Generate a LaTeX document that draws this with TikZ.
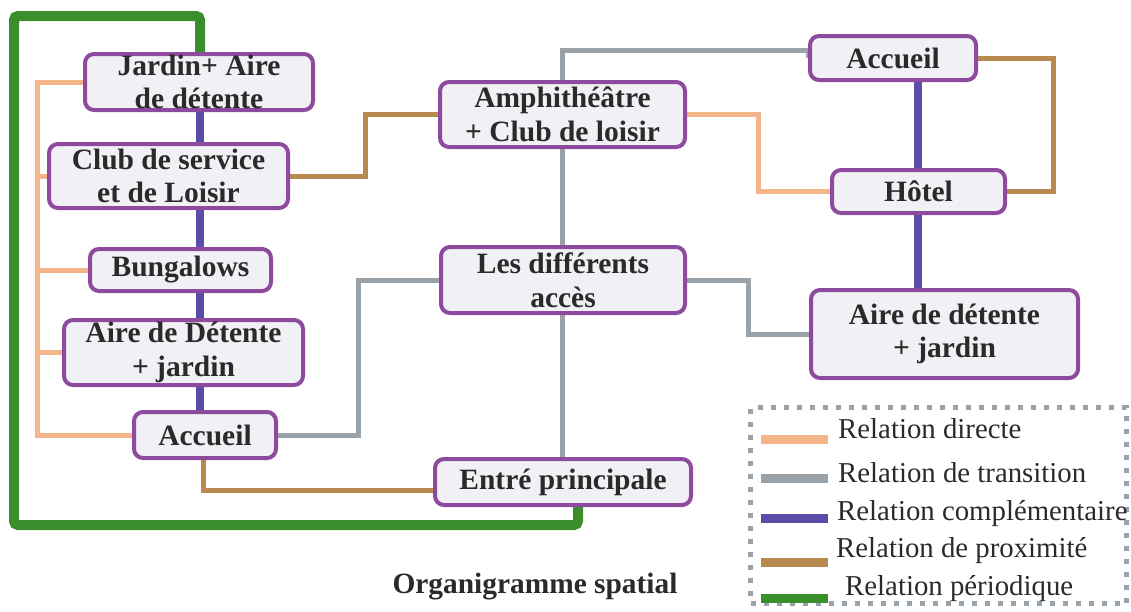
\documentclass[tikz,border=0pt]{standalone}
\usepackage{fontspec}
\setmainfont{Liberation Serif}
\usetikzlibrary{backgrounds}

\definecolor{boxline}{HTML}{8E4A9E}
\definecolor{boxfill}{HTML}{F1F1F5}
\definecolor{cdirect}{HTML}{F5B58A}
\definecolor{ctrans}{HTML}{9AA2A9}
\definecolor{ccomp}{HTML}{5A4DA8}
\definecolor{cprox}{HTML}{B98A4F}
\definecolor{cperi}{HTML}{3A8E2C}
\definecolor{txt}{HTML}{2A2A2A}

% a rounded box given by its outer corners (x1,y1) and (x2,y2)
\newcommand\placebox[6]{%
  \node[box, minimum width={#4-#2-4}, minimum height={#5-#3-4}]
    (#1) at ({(#2+#4)/2},{(#3+#5)/2}) {#6};}

\begin{document}
\begin{tikzpicture}[x=1pt,y=-1pt,
  box/.style={draw=boxline, fill=boxfill, line width=4pt, rounded corners=9pt,
    inner sep=0pt, align=center, text=txt,
    font=\fontsize{29.5}{33.5}\selectfont\bfseries},
  direct/.style={draw=cdirect, line width=5pt},
  trans/.style={draw=ctrans, line width=5pt},
  comp/.style={draw=ccomp, line width=8pt},
  prox/.style={draw=cprox, line width=5pt},
  peri/.style={draw=cperi, line width=10pt, rounded corners=4pt},
  legendframe/.style={draw=ctrans, line width=5pt, dash pattern=on 5pt off 8pt,
    inner sep=0pt},
  legendtext/.style={anchor=base west, inner sep=0pt, text=txt,
    font=\fontsize{28.8}{30}\selectfont},
  swatch/.style={line width=9pt}
]
\useasboundingbox (0,0) rectangle (1131,611);

% spaces of the resort
\placebox{jardin}{83}{52}{315}{112}{Jardin+ Aire\\de détente}
\placebox{club}{47}{142}{290}{210}{Club de service\\et de Loisir}
\placebox{bung}{88}{247}{273}{293}{Bungalows}
\placebox{aireL}{62}{318}{305}{387}{Aire de Détente\\+ jardin}
\placebox{accL}{132}{410}{278}{460}{Accueil}
\placebox{amph}{438}{80}{687}{149}{Amphithéâtre\\+ Club de loisir}
\placebox{acces}{439}{245}{687}{315}{Les différents\\accès}
\placebox{entree}{433}{457}{693}{507}{Entré principale}
\placebox{accR}{808}{34}{978}{82}{Accueil}
\placebox{hotel}{830}{168}{1007}{215}{Hôtel}
\placebox{aireR}{809}{288}{1080}{380}{Aire de détente\\+ jardin}

% turning points of the links
\coordinate (busx) at (37,0);
\coordinate (spine) at (200,0);
\coordinate (rspine) at (918,0);
\coordinate (bk1) at (365,0);
\coordinate (or1) at (758,0);
\coordinate (gr1) at (358,0);
\coordinate (gr2) at (748,0);
\coordinate (bk2) at (1053,0);
\coordinate (mid) at (562,0);
\coordinate (gtop) at (0,50);
\coordinate (bkbot) at (0,490);

\begin{pgfonlayer}{background}
  % direct relations (left bus and hotel link)
  \draw[direct] (jardin.west) -- (jardin.west -| busx) -- (busx |- accL.west) -- (accL.west);
  \draw[direct] (club.west) -- (club.west -| busx);
  \draw[direct] (bung.west) -- (bung.west -| busx);
  \draw[direct] (aireL.west) -- (aireL.west -| busx);
  \draw[direct] (amph.east) -- (amph.east -| or1) -- (or1 |- hotel.west) -- (hotel.west);

  % complementary relations
  \draw[comp] (jardin.south -| spine) -- (accL.north -| spine);
  \draw[comp] (accR.south -| rspine) -- (hotel.north -| rspine);
  \draw[comp] (hotel.south -| rspine) -- (aireR.north -| rspine);

  % transition relations
  \draw[trans] (amph.north -| mid) -- (mid |- gtop) -- (gtop -| accR.west) -- (accR.west);
  \draw[trans] (amph.south -| mid) -- (acces.north -| mid);
  \draw[trans] (acces.south -| mid) -- (entree.north -| mid);
  \draw[trans] (accL.east) -- (accL.east -| gr1) -- (gr1 |- acces.west) -- (acces.west);
  \draw[trans] (acces.east) -- (acces.east -| gr2) -- (gr2 |- aireR.west) -- (aireR.west);

  % proximity relations
  \draw[prox] (club.east) -- (club.east -| bk1) -- (bk1 |- amph.west) -- (amph.west);
  \draw[prox] (accR.east) -- (accR.east -| bk2) -- (bk2 |- hotel.east) -- (hotel.east);
  \draw[prox] (accL.south -| 203,0) -- (bkbot -| 203,0) -- (bkbot -| entree.west) -- (entree.west |- bkbot);

  % periodic relation
  \draw[peri] (jardin.north -| spine) -- (200,16) -- (14,16) -- (14,525) -- (578,525)
    -- (entree.south -| 578,0);
\end{pgfonlayer}

% legend
\node[legendframe, minimum width=376, minimum height=196] (legend) at (938.5,505.5) {};
\draw[swatch, cdirect] (761,439) -- (828,439);
\draw[swatch, ctrans] (761,478) -- (828,478);
\draw[swatch, ccomp] (761,518) -- (828,518);
\draw[swatch, cprox] (761,562) -- (828,562);
\draw[swatch, cperi] (761,598) -- (828,598);
\node[legendtext] (l1) at (838,438) {Relation directe};
\node[legendtext] (l2) at (838,482) {Relation de transition};
\node[legendtext] (l3) at (837,520) {Relation complémentaire};
\node[legendtext] (l4) at (836,557) {Relation de proximité};
\node[legendtext] (l5) at (845,595) {Relation périodique};

% title
\node[anchor=base, inner sep=0pt, text=txt, font=\fontsize{29.4}{30}\selectfont\bfseries]
  (title) at (535,593) {Organigramme spatial};
\end{tikzpicture}
\end{document}
